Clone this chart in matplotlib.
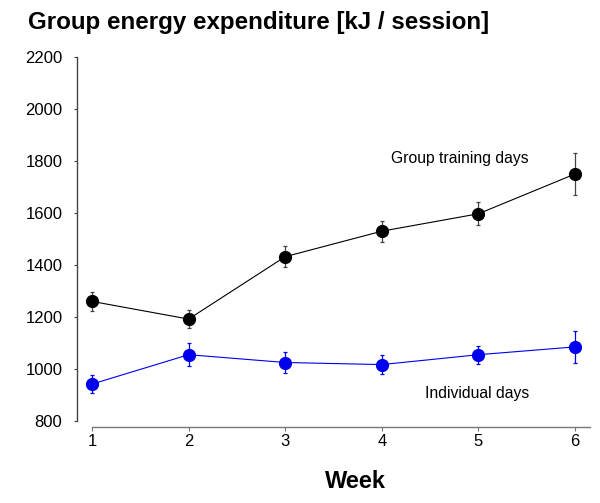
import matplotlib
matplotlib.use("Agg")
import matplotlib.pyplot as plt

plt.rcParams['font.family'] = ['Liberation Sans', 'DejaVu Sans']

weeks = [1, 2, 3, 4, 5, 6]
group_vals = [1260, 1192, 1432, 1530, 1597, 1750]
group_err = [35, 35, 40, 40, 45, 80]
indiv_vals = [942, 1055, 1025, 1017, 1055, 1085]
indiv_err = [35, 45, 40, 35, 35, 60]
yticks = [800, 1000, 1200, 1400, 1600, 1800, 2000, 2200]

W, H = 600, 503
fig = plt.figure(figsize=(W / 100, H / 100), dpi=100)
# axes box: left x=77, right x=590, top y=57, bottom y=421
ax = fig.add_axes([77 / W, 1 - 421 / H, (590 - 77) / W, (421 - 57) / H])

ax.errorbar(weeks, group_vals, yerr=group_err, color='black', marker='o',
            markersize=8.5, linewidth=0.8, elinewidth=0.9, capsize=1.6, capthick=0.9,
            ecolor='#444444')
ax.errorbar(weeks, indiv_vals, yerr=indiv_err, color='#0000ee', marker='o',
            markersize=8.5, linewidth=0.8, elinewidth=0.9, capsize=1.6, capthick=0.9)

ax.set_xlim(1 - 15 / 96.6, 6 + 15 / 96.6)
ax.set_ylim(800, 2200)
ax.set_yticks(yticks)
ax.set_xticks(weeks)

for s in ['top', 'right']:
    ax.spines[s].set_visible(False)
ax.spines['left'].set_color('#444444')
ax.spines['bottom'].set_color('#777777')
ax.spines['left'].set_linewidth(1)
ax.spines['bottom'].set_linewidth(1)
ax.spines['bottom'].set_position(('outward', 4))
ax.spines['bottom'].set_bounds(1, 6 + 15 / 96.6)

ax.tick_params(axis='y', direction='out', length=2.5, width=0.8, color='#444444',
               labelsize=12, pad=8)
ax.tick_params(axis='x', direction='out', length=3, width=0.8, color='#777777',
               labelsize=12, pad=2)

ax.text(4.81, 1808, 'Group training days', fontsize=11.3, ha='center', va='center')
ax.text(4.99, 905, 'Individual days', fontsize=11.3, ha='center', va='center')

fig.text(28 / W, 1 - 22 / H, 'Group energy expenditure [kJ / session]',
         fontsize=17.4, fontweight='bold', ha='left', va='center')
fig.text(355 / W, 1 - 482 / H, 'Week', fontsize=17, fontweight='bold',
         ha='center', va='center')

fig.savefig('out.png', dpi=100)
